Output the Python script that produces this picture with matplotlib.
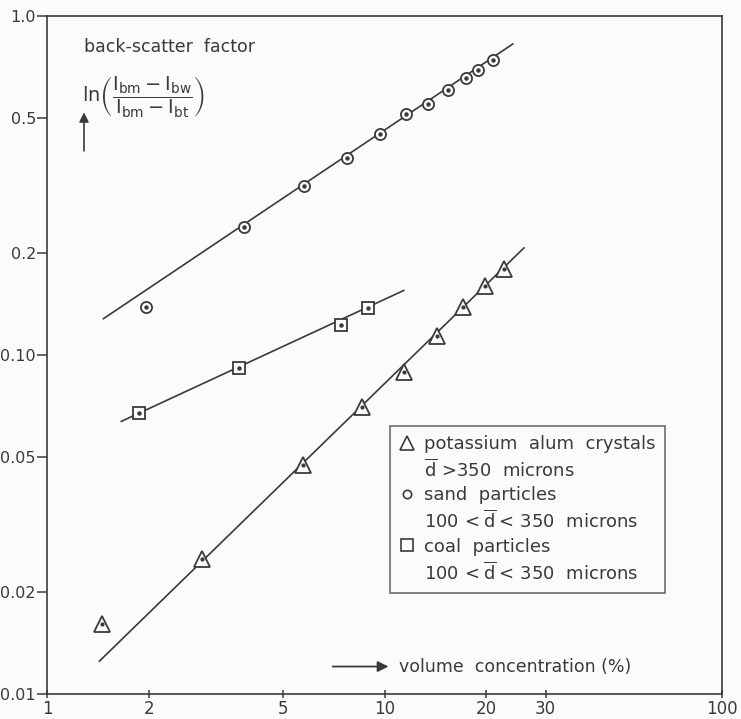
import matplotlib
matplotlib.use("Agg")
import matplotlib.pyplot as plt
from matplotlib.lines import Line2D
from matplotlib.ticker import NullLocator

plt.rcParams['mathtext.fontset'] = 'dejavusans'

# ---- data ----
sand_x = [1.96, 3.84, 5.77, 7.74, 9.70, 11.6, 13.5, 15.4, 17.4, 18.9, 21.0]
sand_y = [0.139, 0.239, 0.316, 0.382, 0.449, 0.514, 0.551, 0.605, 0.657, 0.693, 0.742]
sand_fit_x = [1.47, 24.0]
sand_fit_y = [0.128, 0.827]

coal_x = [1.87, 3.70, 7.43, 8.92]
coal_y = [0.0673, 0.0917, 0.123, 0.138]
coal_fit_x = [1.66, 11.4]
coal_fit_y = [0.0637, 0.155]

alum_x = [1.455, 2.88, 5.73, 8.58, 11.4, 14.3, 17.1, 19.9, 22.6]
alum_y = [0.0161, 0.0250, 0.0473, 0.0701, 0.0892, 0.114, 0.139, 0.160, 0.179]
alum_fit_x = [1.43, 25.9]
alum_fit_y = [0.0125, 0.207]

x_ticks = [1, 2, 5, 10, 20, 30, 100]
x_tick_labels = ["1", "2", "5", "10", "20", "30", "100"]
y_ticks = [0.01, 0.02, 0.05, 0.10, 0.2, 0.5, 1.0]
y_tick_labels = ["0.01", "0.02", "0.05", "0.10", "0.2", "0.5", "1.0"]

legend_labels = [
    "potassium  alum  crystals",
    r"$\overline{\mathrm{d}}$ >350  microns",
    "sand  particles",
    r"100$\,<\overline{\mathrm{d}}<\,$350  microns",
    "coal  particles",
    r"100$\,<\overline{\mathrm{d}}<\,$350  microns",
]

ink = "#3a3a3a"
bg = "#fbfbfa"

fig = plt.figure(figsize=(7.41, 7.19), dpi=100, facecolor=bg)
ax = fig.add_axes([47/741, 1-694/719, 675/741, 678/719])
ax.set_facecolor(bg)
ax.set_xscale('log')
ax.set_yscale('log')
ax.set_xlim(1, 100)
ax.set_ylim(0.01, 1.0)

# fitted lines
for fx, fy in [(sand_fit_x, sand_fit_y), (coal_fit_x, coal_fit_y), (alum_fit_x, alum_fit_y)]:
    ax.plot(fx, fy, color=ink, lw=1.2, zorder=2)

# markers (open symbol + centre dot)
ax.plot(sand_x, sand_y, ls='none', marker='o', ms=8, mfc=bg, mec=ink, mew=1.3, zorder=3)
ax.plot(sand_x, sand_y, ls='none', marker='o', ms=2.2, mfc=ink, mec=ink, zorder=4)
ax.plot(coal_x, coal_y, ls='none', marker='s', ms=9, mfc=bg, mec=ink, mew=1.3, zorder=3)
ax.plot(coal_x, coal_y, ls='none', marker='o', ms=2.2, mfc=ink, mec=ink, zorder=4)
ax.plot(alum_x, alum_y, ls='none', marker='^', ms=11, mfc=bg, mec=ink, mew=1.3, zorder=3)
ax.plot(alum_x, alum_y, ls='none', marker='o', ms=2.0, mfc=ink, mec=ink, zorder=4)

# ticks
ax.xaxis.set_minor_locator(NullLocator())
ax.yaxis.set_minor_locator(NullLocator())
ax.set_xticks(x_ticks)
ax.set_xticklabels(x_tick_labels)
ax.set_yticks(y_ticks)
ax.set_yticklabels(y_tick_labels)
ax.tick_params(axis='x', which='major', direction='inout', length=6, width=1.1,
               colors=ink, labelsize=12, pad=1)
ax.tick_params(axis='y', which='major', direction='out', length=7, width=1.1,
               colors=ink, labelsize=11.5, pad=1)
for s in ax.spines.values():
    s.set_color(ink)
    s.set_linewidth(1.2)

# y-axis description (top left)
ax.text(0.055, 0.954, "back-scatter  factor", transform=ax.transAxes,
        fontsize=12.5, color=ink, ha='left', va='center')
ax.text(0.052, 0.881,
        r"$\mathrm{ln}\left(\dfrac{\mathrm{I_{bm}-I_{bw}}}{\mathrm{I_{bm}-I_{bt}}}\right)$",
        transform=ax.transAxes, fontsize=14, color=ink, ha='left', va='center')
ax.annotate("", xy=(0.0548, 0.862), xytext=(0.0548, 0.797),
            xycoords='axes fraction', textcoords='axes fraction',
            arrowprops=dict(arrowstyle='-|>', color=ink, lw=1.2, mutation_scale=14))

# x-axis description
ax.annotate("", xy=(0.51, 0.0405), xytext=(0.419, 0.0405),
            xycoords='axes fraction', textcoords='axes fraction',
            arrowprops=dict(arrowstyle='-|>', color=ink, lw=1.3, mutation_scale=16))
ax.text(0.522, 0.0405, "volume  concentration (%)", transform=ax.transAxes,
        fontsize=12.5, color=ink, ha='left', va='center')

# legend
blank = Line2D([], [], ls='none', marker=None)
h_tri = Line2D([], [], ls='none', marker='^', ms=10, mfc=bg, mec=ink, mew=1.2)
h_cir = Line2D([], [], ls='none', marker='o', ms=6, mfc=bg, mec=ink, mew=1.2)
h_sq = Line2D([], [], ls='none', marker='s', ms=8, mfc=bg, mec=ink, mew=1.2)
handles = [h_tri, blank, h_cir, blank, h_sq, blank]
leg = ax.legend(handles, legend_labels, loc='upper left',
                bbox_to_anchor=((390-47)/675, 1-(426-16)/678),
                frameon=True, fancybox=False, edgecolor=ink, facecolor=bg,
                fontsize=13, handlelength=0.9, handletextpad=0.5,
                labelspacing=0.3, borderpad=0.5, borderaxespad=0.0)
leg.get_frame().set_linewidth(1.1)
for t in leg.get_texts():
    t.set_color(ink)

fig.savefig("out.png", dpi=100, facecolor=bg)
